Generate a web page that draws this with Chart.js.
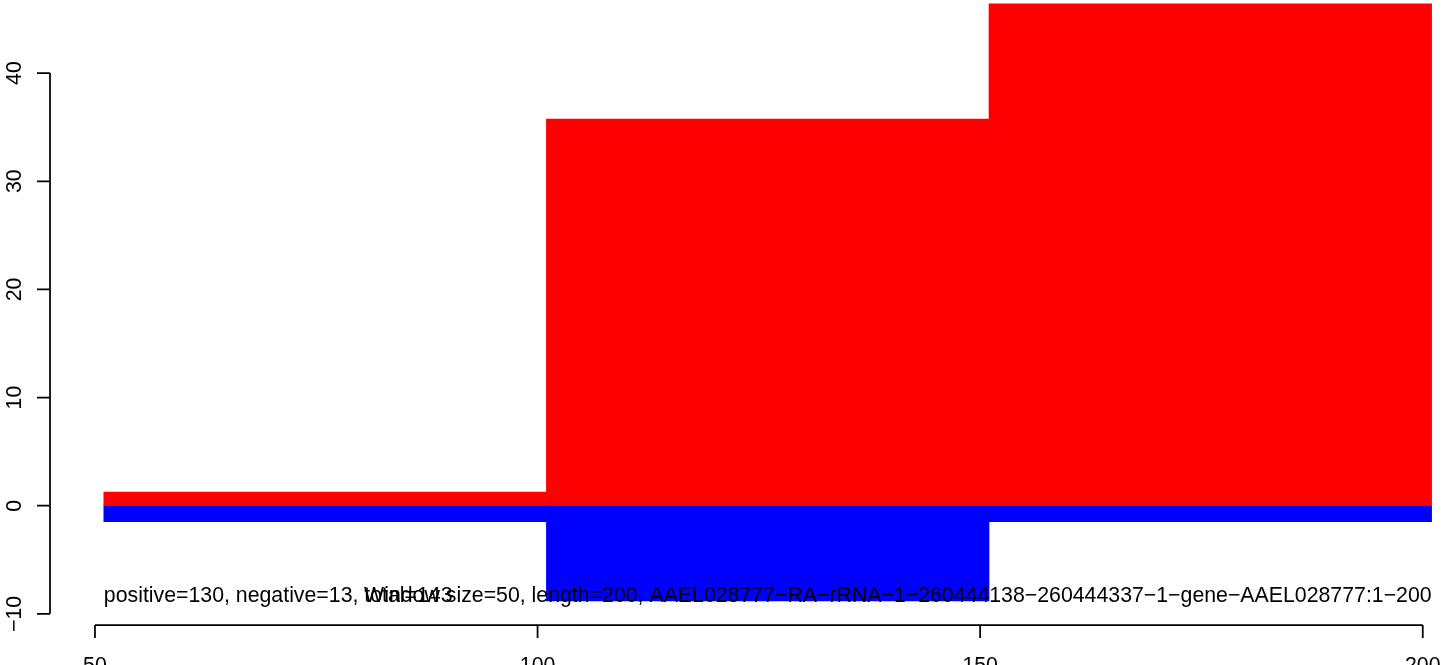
<!DOCTYPE html>
<html>
<head>
<meta charset="utf-8">
<script src="https://cdn.jsdelivr.net/npm/chart.js@4"></script>
<style>
    html, body { margin: 0; padding: 0; background: #fff; }
    #wrap { width: 1444px; height: 665px; position: relative; }
</style>
</head>
<body>
<div id="wrap"><canvas id="chart"></canvas></div>
<script>
// window centres (window size 50) and the per-window values
const windowCenters = [76, 126, 176];
const positiveValues = [1.27, 35.76, 46.4];
const negativeValues = [-1.48, -8.81, -1.48];

const xTicks = [50, 100, 150, 200];
const yTicks = [-10, 0, 10, 20, 30, 40];

const statsText = "positive=130, negative=13, total=143";
const infoText = "Window size=50, length=200, AAEL028777\u2212RA\u2212rRNA\u22121\u2212260444138\u2212260444337\u22121\u2212gene\u2212AAEL028777:1\u2212200";

const FONT = '21.3px "Liberation Sans", Arial, sans-serif';
const TICK_LEN = 13;

// R-style axes: line only between first and last tick, outward ticks
const rAxes = {
    id: "rAxes",
    afterDraw(chart) {
        const ctx = chart.ctx;
        const xs = chart.scales.x;
        const ys = chart.scales.y;
        const area = chart.chartArea;

        ctx.save();
        ctx.strokeStyle = "#000";
        ctx.lineWidth = 1.75;
        ctx.font = FONT;
        ctx.fillStyle = "#000";

        // x axis
        const ax = area.bottom;
        ctx.beginPath();
        ctx.moveTo(xs.getPixelForValue(xTicks[0]), ax);
        ctx.lineTo(xs.getPixelForValue(xTicks[xTicks.length - 1]), ax);
        xTicks.forEach(t => {
            const px = xs.getPixelForValue(t);
            ctx.moveTo(px, ax);
            ctx.lineTo(px, ax + TICK_LEN);
        });
        ctx.stroke();

        ctx.textAlign = "center";
        ctx.textBaseline = "alphabetic";
        xTicks.forEach(t => {
            ctx.fillText(String(t), xs.getPixelForValue(t), ax + 47);
        });

        // y axis
        const ay = area.left;
        ctx.beginPath();
        ctx.moveTo(ay, ys.getPixelForValue(yTicks[0]));
        ctx.lineTo(ay, ys.getPixelForValue(yTicks[yTicks.length - 1]));
        yTicks.forEach(t => {
            const py = ys.getPixelForValue(t);
            ctx.moveTo(ay, py);
            ctx.lineTo(ay - TICK_LEN, py);
        });
        ctx.stroke();

        yTicks.forEach(t => {
            const py = ys.getPixelForValue(t);
            ctx.save();
            ctx.translate(21, py);
            ctx.rotate(-Math.PI / 2);
            ctx.fillText(String(t).replace("-", "\u2212"), 0, 0);
            ctx.restore();
        });

        // annotation texts (drawn on top of the bars)
        const ty = ys.getPixelForValue(Math.min(...negativeValues)) + 1;
        ctx.textAlign = "left";
        ctx.fillText(statsText, xs.getPixelForValue(51), ty);
        ctx.textAlign = "right";
        ctx.fillText(infoText, xs.getPixelForValue(201), ty);

        ctx.restore();
    }
};

new Chart(document.getElementById("chart"), {
    type: "bar",
    data: {
        datasets: [
            {
                label: "positive",
                data: windowCenters.map((x, i) => ({ x: x, y: positiveValues[i] })),
                backgroundColor: "#ff0000",
                borderWidth: 0,
                barPercentage: 1,
                categoryPercentage: 1
            },
            {
                label: "negative",
                data: windowCenters.map((x, i) => ({ x: x, y: negativeValues[i] })),
                backgroundColor: "#0000ff",
                borderWidth: 0,
                barPercentage: 1,
                categoryPercentage: 1
            }
        ]
    },
    options: {
        responsive: true,
        maintainAspectRatio: false,
        animation: false,
        layout: {
            padding: { left: 50, right: 0, top: 0, bottom: 40 }
        },
        plugins: {
            legend: { display: false },
            tooltip: { enabled: false }
        },
        scales: {
            x: {
                type: "linear",
                display: false,
                stacked: true,
                offset: false,
                min: 44.92,
                max: 202.4,
                ticks: { stepSize: 50, includeBounds: false }
            },
            y: {
                type: "linear",
                display: false,
                stacked: true,
                min: -11.03,
                max: 46.76
            }
        }
    },
    plugins: [rAxes]
});
</script>
</body>
</html>
